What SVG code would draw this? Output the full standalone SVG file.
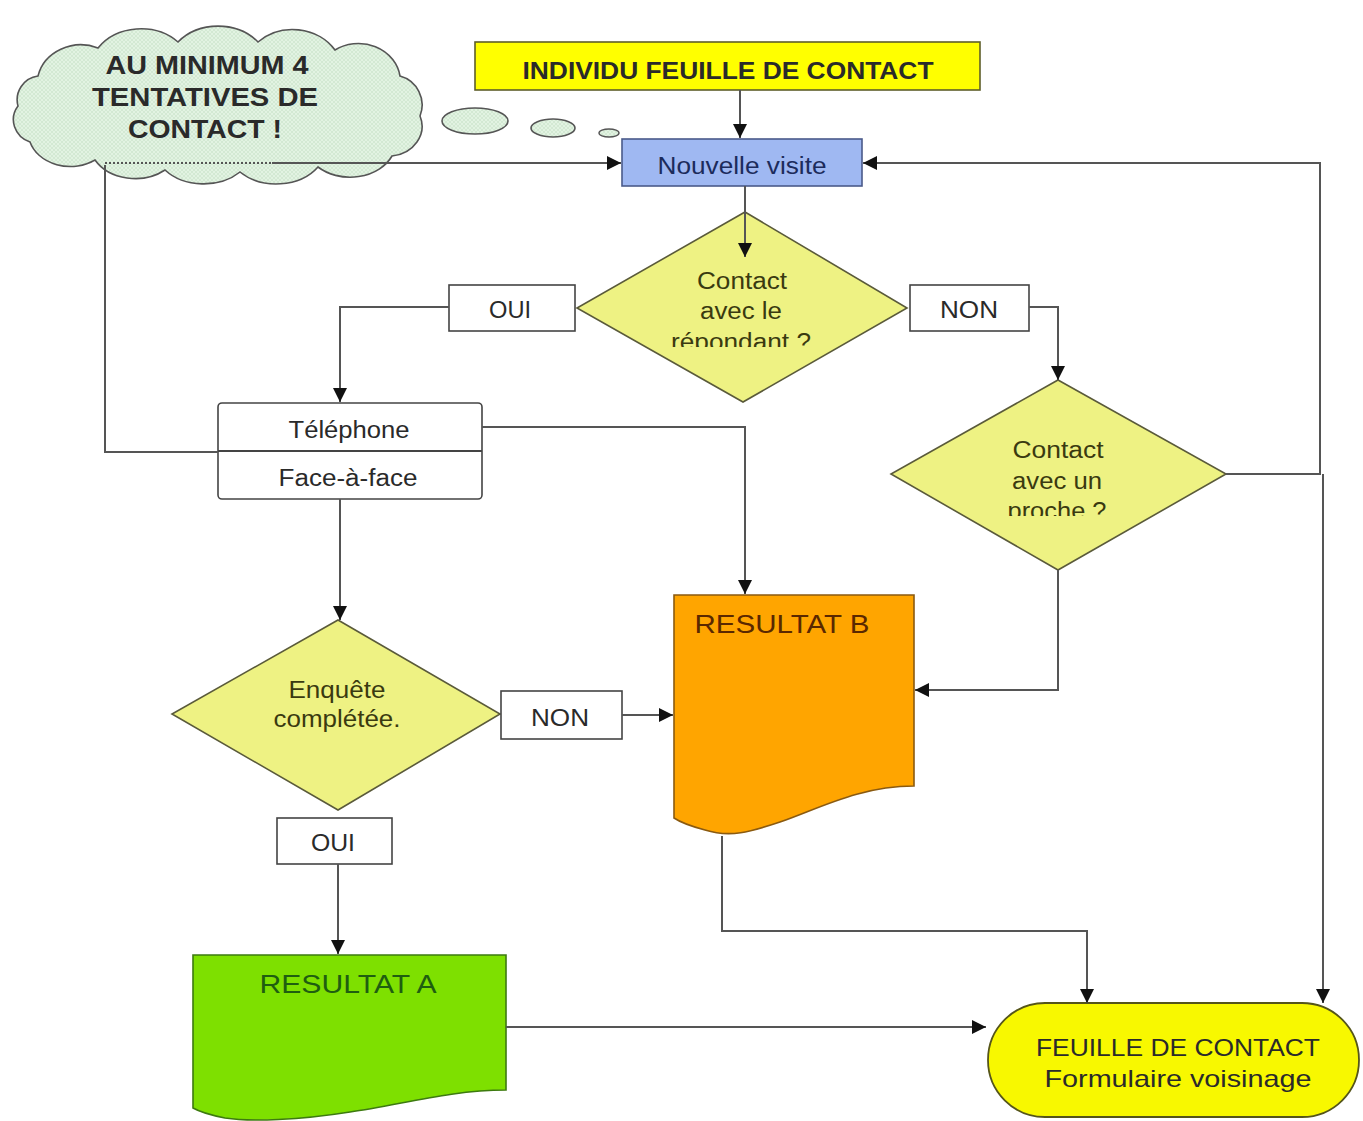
<svg xmlns="http://www.w3.org/2000/svg" width="1363" height="1121" viewBox="0 0 1363 1121">
<style>
  text { font-family: "Liberation Sans", Arial, sans-serif; text-anchor: middle; fill: #2a2a2a; }
  .lbl { font-size: 23px; }
  .dia { fill: #eef283; stroke: #5a5a3a; stroke-width: 1.6; }
  .dtx { font-size: 23px; fill: #3a3a10; }
  .box { fill: #ffffff; stroke: #444; stroke-width: 1.6; }
  .con { fill: none; stroke: #555; stroke-width: 2; }
  .bold { font-weight: bold; }
</style>
<defs>
  <marker id="arr" viewBox="0 0 10 10" refX="10" refY="5" markerWidth="14" markerHeight="14" markerUnits="userSpaceOnUse" orient="auto">
    <path d="M0 0 L10 5 L0 10 Z" fill="#111"/>
  </marker>
  <pattern id="hatch" width="4" height="4" patternUnits="userSpaceOnUse">
    <rect width="4" height="4" fill="#e2f3e2"/>
    <path d="M0 0 L4 4 M4 0 L0 4" stroke="#c9e2c9" stroke-width="0.6"/>
  </pattern>
  <clipPath id="clip1"><rect x="560" y="200" width="360" height="147"/></clipPath>
  <clipPath id="clip2"><rect x="880" y="370" width="360" height="146"/></clipPath>
</defs>
<rect width="1363" height="1121" fill="#ffffff"/>

<g id="cloud">
  <path d="M38 76 A44 40 0 0 1 98 48 A52 44 0 0 1 178 42 A52 44 0 0 1 258 42 A50 44 0 0 1 335 50 A42 38 0 0 1 400 76 A30 30 0 0 1 420 116 A34 30 0 0 1 392 156 A46 36 0 0 1 318 167 A50 38 0 0 1 240 172 A50 38 0 0 1 165 170 A46 36 0 0 1 95 160 A42 34 0 0 1 30 142 A26 24 0 0 1 18 106 A24 24 0 0 1 38 76 Z" fill="url(#hatch)" stroke="#555" stroke-width="1.6"/>
  <ellipse cx="475" cy="121" rx="33" ry="13" fill="url(#hatch)" stroke="#555" stroke-width="1.6"/>
  <ellipse cx="553" cy="128" rx="22" ry="9" fill="url(#hatch)" stroke="#555" stroke-width="1.6"/>
  <ellipse cx="609" cy="133" rx="10" ry="4" fill="url(#hatch)" stroke="#555" stroke-width="1.4"/>
  <text class="bold" x="207" y="74" font-size="26" textLength="203" lengthAdjust="spacingAndGlyphs">AU MINIMUM 4</text>
  <text class="bold" x="205" y="106" font-size="26" textLength="226" lengthAdjust="spacingAndGlyphs">TENTATIVES DE</text>
  <text class="bold" x="205" y="138" font-size="26" textLength="154" lengthAdjust="spacingAndGlyphs">CONTACT !</text>
</g>

<g id="start">
  <rect x="475" y="42" width="505" height="48" fill="#ffff00" stroke="#5e5e2a" stroke-width="1.6"/>
  <text class="bold" x="728" y="79" font-size="24" textLength="411" lengthAdjust="spacingAndGlyphs">INDIVIDU FEUILLE DE CONTACT</text>
</g>

<g id="nouvelle-visite">
  <rect x="622" y="139" width="240" height="47" fill="#9fb8f2" stroke="#4a5a8a" stroke-width="1.6"/>
  <text x="742" y="174" font-size="23" style="fill:#1c2b5c" textLength="169" lengthAdjust="spacingAndGlyphs">Nouvelle visite</text>
</g>

<g id="contact-repondant">
  <polygon class="dia" points="745,212 907,308 743,402 577,308"/>
  <g clip-path="url(#clip1)">
    <text class="dtx" x="742" y="289" textLength="90" lengthAdjust="spacingAndGlyphs">Contact</text>
    <text class="dtx" x="741" y="319" textLength="82" lengthAdjust="spacingAndGlyphs">avec le</text>
    <text class="dtx" x="741" y="350" textLength="140" lengthAdjust="spacingAndGlyphs">répondant ?</text>
  </g>
</g>

<g id="oui1">
  <rect class="box" x="449" y="285" width="126" height="46"/>
  <text class="lbl" x="510" y="318" textLength="42" lengthAdjust="spacingAndGlyphs">OUI</text>
</g>

<g id="non1">
  <rect class="box" x="910" y="285" width="119" height="46"/>
  <text class="lbl" x="969" y="318" textLength="58" lengthAdjust="spacingAndGlyphs">NON</text>
</g>

<g id="mode">
  <rect x="218" y="403" width="264" height="96" rx="4" fill="#ffffff" stroke="#444" stroke-width="1.6"/>
  <line x1="218" y1="451" x2="482" y2="451" stroke="#444" stroke-width="2"/>
  <text class="lbl" x="349" y="438" textLength="121" lengthAdjust="spacingAndGlyphs">Téléphone</text>
  <text class="lbl" x="348" y="486" textLength="139" lengthAdjust="spacingAndGlyphs">Face-à-face</text>
</g>

<g id="contact-proche">
  <polygon class="dia" points="1058,380 1226,474 1058,570 891,474"/>
  <g clip-path="url(#clip2)">
    <text class="dtx" x="1058" y="458" textLength="91" lengthAdjust="spacingAndGlyphs">Contact</text>
    <text class="dtx" x="1057" y="489" textLength="90" lengthAdjust="spacingAndGlyphs">avec un</text>
    <text class="dtx" x="1057" y="519" textLength="99" lengthAdjust="spacingAndGlyphs">proche ?</text>
  </g>
</g>

<g id="enquete">
  <polygon class="dia" points="338,620 500,714 338,810 172,714"/>
  <text class="dtx" x="337" y="698" textLength="97" lengthAdjust="spacingAndGlyphs">Enquête</text>
  <text class="dtx" x="337" y="727" textLength="127" lengthAdjust="spacingAndGlyphs">complétée.</text>
</g>

<g id="non2">
  <rect class="box" x="501" y="691" width="121" height="48"/>
  <text class="lbl" x="560" y="726" textLength="58" lengthAdjust="spacingAndGlyphs">NON</text>
</g>

<g id="oui2">
  <rect class="box" x="277" y="818" width="115" height="46"/>
  <text class="lbl" x="333" y="851" textLength="44" lengthAdjust="spacingAndGlyphs">OUI</text>
</g>

<g id="resultat-b">
  <path d="M674 595 H914 V786 C860 786 820 808 780 822 C750 832 730 838 705 830 C690 826 680 822 674 818 Z" fill="#ffa500" stroke="#8a5a10" stroke-width="1.6"/>
  <text x="782" y="633" font-size="26" style="fill:#5a2800" textLength="175" lengthAdjust="spacingAndGlyphs">RESULTAT B</text>
</g>

<g id="resultat-a">
  <path d="M193 955 H506 V1090 C450 1090 400 1105 350 1112 C300 1120 250 1122 225 1118 C210 1115 200 1112 193 1108 Z" fill="#7ee000" stroke="#3d7a10" stroke-width="1.6"/>
  <text x="348" y="993" font-size="26" style="fill:#1f5e10" textLength="177" lengthAdjust="spacingAndGlyphs">RESULTAT A</text>
</g>

<g id="feuille-contact">
  <rect x="988" y="1003" width="371" height="114" rx="57" fill="#f8f800" stroke="#55551a" stroke-width="1.8"/>
  <text x="1178" y="1056" font-size="24" textLength="284" lengthAdjust="spacingAndGlyphs">FEUILLE DE CONTACT</text>
  <text x="1178" y="1087" font-size="24" textLength="267" lengthAdjust="spacingAndGlyphs">Formulaire voisinage</text>
</g>

<g id="connectors">
  <line class="con" x1="740" y1="90" x2="740" y2="138" marker-end="url(#arr)"/>
  <line class="con" x1="745" y1="186" x2="745" y2="257" marker-end="url(#arr)"/>
  <path class="con" d="M449 307 H340 V402" marker-end="url(#arr)"/>
  <path class="con" d="M1029 307 H1058 V380" marker-end="url(#arr)"/>
  <path class="con" d="M482 427 H745 V594" marker-end="url(#arr)"/>
  <path class="con" d="M340 499 V620" marker-end="url(#arr)"/>
  <path class="con" d="M622 715 H673" marker-end="url(#arr)"/>
  <path class="con" d="M338 864 V954" marker-end="url(#arr)"/>
  <path class="con" d="M1058 570 V690 H915" marker-end="url(#arr)"/>
  <path class="con" d="M1226 474 H1320 V163 H863" marker-end="url(#arr)"/>
  <path class="con" d="M1323 474 V1003" stroke="#888" marker-end="url(#arr)"/>
  <path class="con" d="M722 836 V931 H1087 V1003" marker-end="url(#arr)"/>
  <path class="con" d="M506 1027 H986" marker-end="url(#arr)"/>
  <path class="con" d="M218 452 H105 V165"/>
  <path d="M105 163 H272" fill="none" stroke="#555" stroke-width="2" stroke-dasharray="2,2"/>
  <path class="con" d="M272 163 H621" marker-end="url(#arr)"/>
</g>
</svg>
